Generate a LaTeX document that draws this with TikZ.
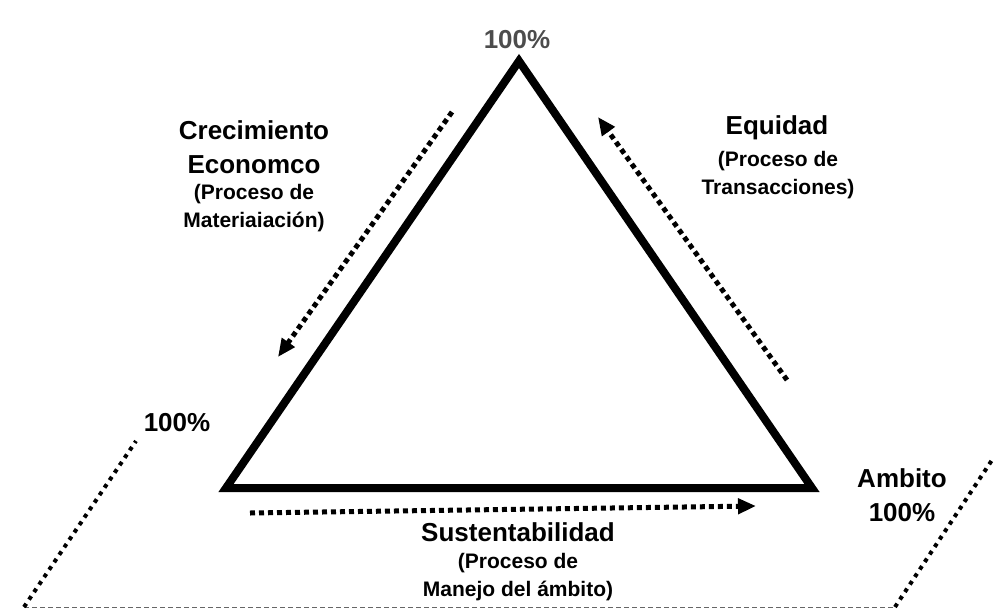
\documentclass[tikz,border=0pt]{standalone}
\usepackage{fontspec}
\setmainfont{Liberation Sans}
\usepackage{tikz}
\usetikzlibrary{arrows.meta}
\tikzstyle{side} =
[draw=black, line width = 8pt, line join = miter]
\tikzstyle{flow} =
[draw=black, line width = 5pt, dash pattern = on 5pt off 4pt,
-{Triangle[length=18pt, width=15pt]}]
\tikzstyle{rim} =
[draw=black, line width = 4pt, dash pattern = on 4pt off 5pt]
\tikzstyle{floor} =
[draw=black!60, line width = 1pt, dash pattern = on 5pt off 3pt]
\tikzstyle{title} =
[inner sep = 0pt, align = center, text = black,
font = \bfseries\fontsize{26}{34}\selectfont]
\tikzstyle{subtitle} =
[inner sep = 0pt, align = center, text = black,
font = \bfseries\fontsize{21}{28}\selectfont]
\tikzstyle{percent} =
[inner sep = 0pt, text = black, font = \bfseries\fontsize{26}{34}\selectfont]

\begin{document}
\begin{tikzpicture}[x = 1pt, y = -1pt]
  \useasboundingbox (0,0) rectangle (994,614);
  % triangle corners
  \coordinate (apex) at (519,61);
  \coordinate (left) at (226,488);
  \coordinate (right) at (812,488);
  \path [side] (apex) -- (left) -- (right) -- cycle;
  %
  % base plane
  \coordinate (floorl) at (24,607);
  \coordinate (floorr) at (895,607);
  \coordinate (rimlt) at (136,441);
  \coordinate (rimrt) at (994,457);
  \path [floor] (floorl) -- (floorr);
  \path [rim] (floorl) -- (rimlt);
  \path [rim] (floorr) -- (rimrt);
  %
  % flow arrows
  \coordinate (crecs) at (452,112);
  \coordinate (crece) at (278,357);
  \coordinate (equis) at (787,380);
  \coordinate (equie) at (598,117);
  \coordinate (susts) at (250,513);
  \coordinate (suste) at (756,506);
  \path [flow] (crecs) -- (crece);
  \path [flow] (equis) -- (equie);
  \path [flow] (susts) -- (suste);
  %
  % labels
  \node [percent, text = black!70] (toppct) at (517,40) {100\%};
  \node [percent] (leftpct) at (177,423) {100\%};
  \node [title] (ambito) at (902,495) {Ambito\\100\%};
  \node [title] (crec) at (254,147) {Crecimiento\\Economco};
  \node [subtitle] (crecsub) at (254,208) {(Proceso de\\Materiaiación)};
  \node [title] (equi) at (777,128) {Equidad};
  \node [subtitle] (equisub) at (778,175) {(Proceso de\\Transacciones)};
  \node [title] (sust) at (518,532) {Sustentabilidad};
  \node [subtitle] (sustsub) at (518,577) {(Proceso de\\Manejo del ámbito)};
\end{tikzpicture}
\end{document}
